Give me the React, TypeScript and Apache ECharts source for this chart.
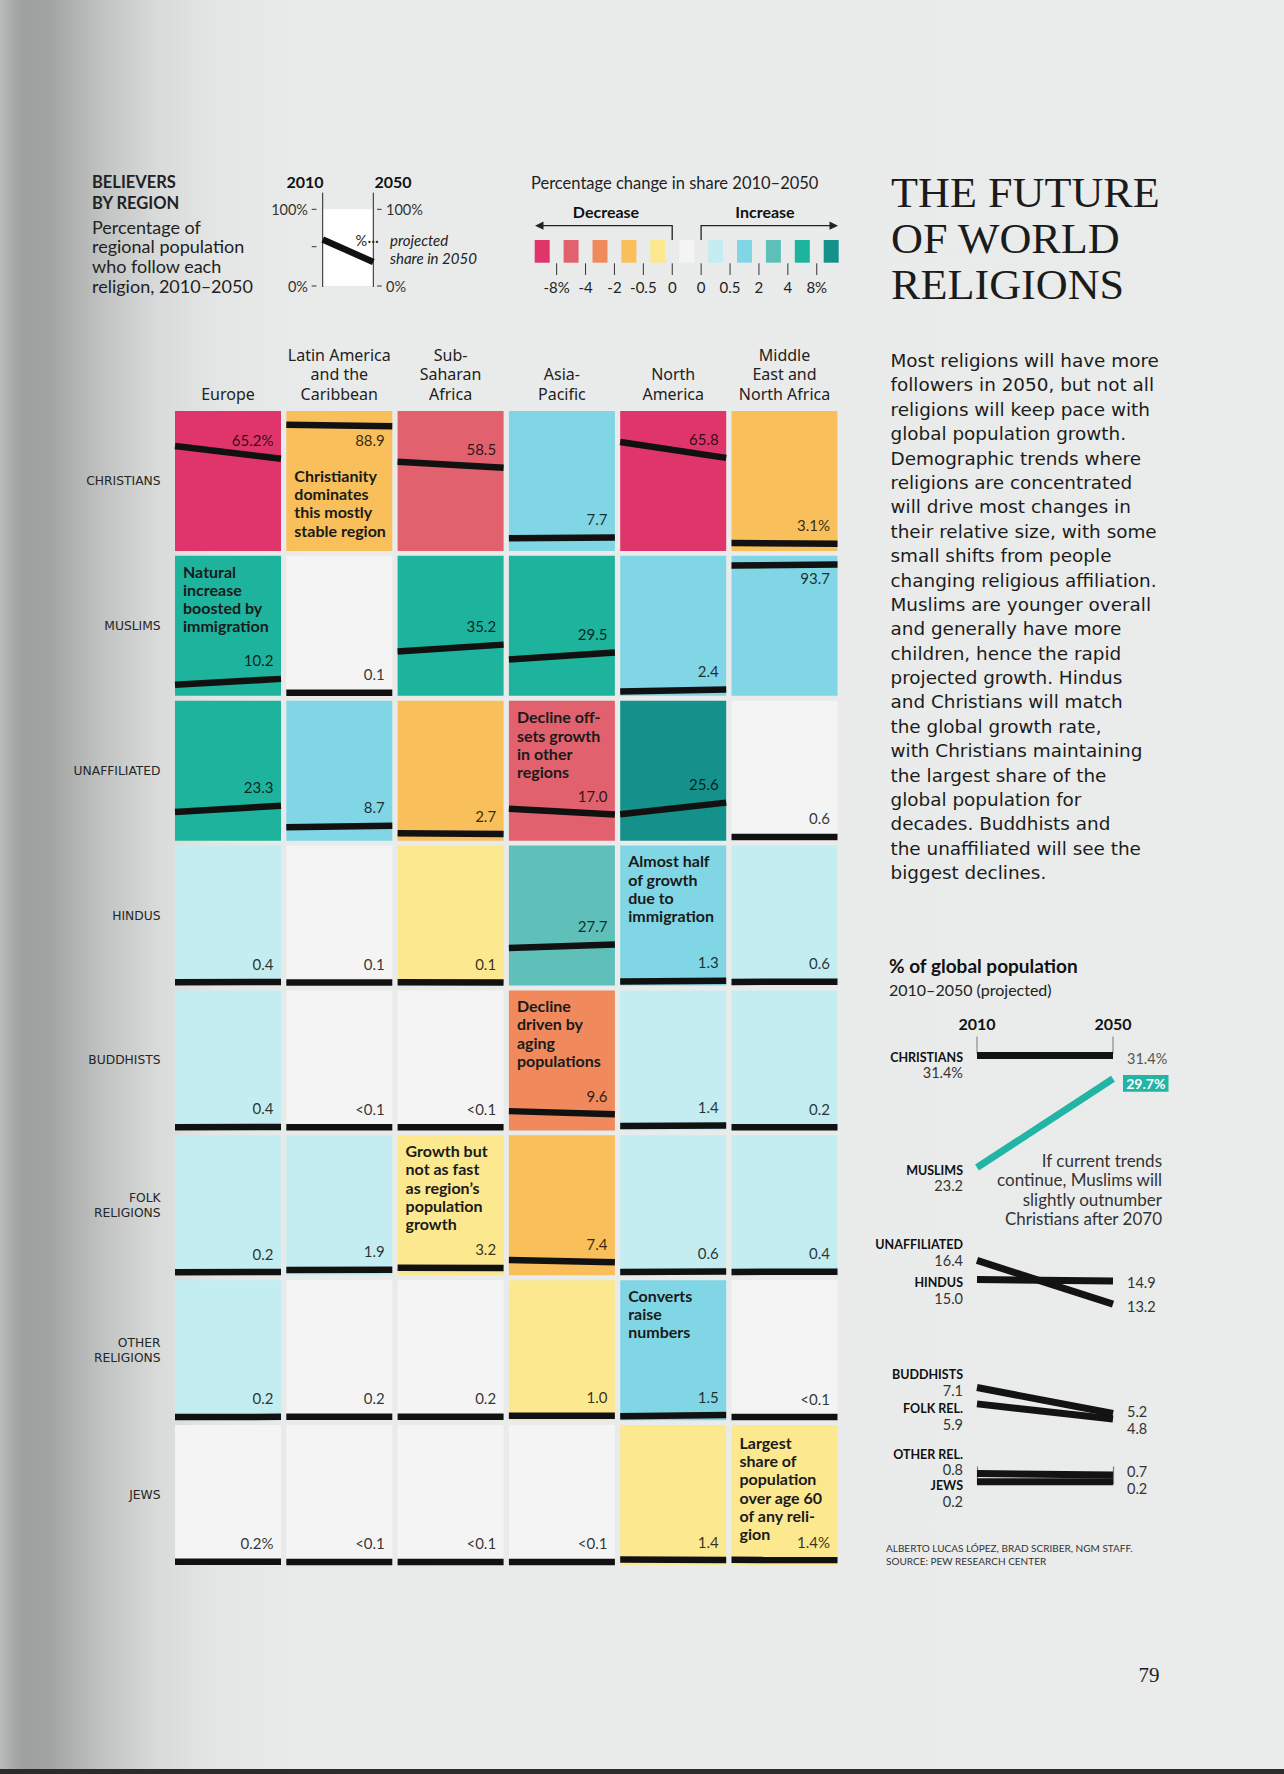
import React, { useEffect, useRef } from "react";
import * as echarts from "echarts";

// ---------------- DATA ----------------
const regions = [
  "Europe",
  "Latin America\nand the\nCaribbean",
  "Sub-\nSaharan\nAfrica",
  "Asia-\nPacific",
  "North\nAmerica",
  "Middle\nEast and\nNorth Africa",
];
const religionLabels = [
  "CHRISTIANS",
  "MUSLIMS",
  "UNAFFILIATED",
  "HINDUS",
  "BUDDHISTS",
  "FOLK\nRELIGIONS",
  "OTHER\nRELIGIONS",
  "JEWS",
];

// % of regional population (regions in the order above). 0.04 stands for "<0.1"
const christians2010 = [74.5, 90.0, 62.9, 7.1, 77.4, 3.7];
const christians2050 = [65.2, 88.9, 58.5, 7.7, 65.8, 3.1];
const muslims2010 = [5.9, 0.1, 30.2, 24.3, 1.0, 93.0];
const muslims2050 = [10.2, 0.1, 35.2, 29.5, 2.4, 93.7];
const unaffiliated2010 = [18.8, 7.7, 3.2, 21.2, 17.1, 0.6];
const unaffiliated2050 = [23.3, 8.7, 2.7, 17.0, 25.6, 0.6];
const hindus2010 = [0.2, 0.1, 0.2, 25.3, 0.7, 0.5];
const hindus2050 = [0.4, 0.1, 0.1, 27.7, 1.3, 0.6];
const buddhists2010 = [0.2, 0.04, 0.04, 11.9, 1.1, 0.1];
const buddhists2050 = [0.4, 0.04, 0.04, 9.6, 1.4, 0.2];
const folk2010 = [0.1, 1.7, 3.3, 9.0, 0.2, 0.3];
const folk2050 = [0.2, 1.9, 3.2, 7.4, 0.6, 0.4];
const other2010 = [0.1, 0.2, 0.2, 1.1, 0.6, 0.04];
const other2050 = [0.2, 0.2, 0.2, 1.0, 1.5, 0.04];
const jews2010 = [0.2, 0.04, 0.04, 0.04, 1.8, 1.6];
const jews2050 = [0.2, 0.04, 0.04, 0.04, 1.4, 1.4];

const legendTickLabels = ["-8%", "-4", "-2", "-0.5", "0", "0", "0.5", "2", "4", "8%"];

const globalYears = ["2010", "2050"];
const globalNames = ["CHRISTIANS", "MUSLIMS", "UNAFFILIATED", "HINDUS", "BUDDHISTS", "FOLK REL.", "OTHER REL.", "JEWS"];
const global2010 = [31.4, 23.2, 16.4, 15.0, 7.1, 5.9, 0.8, 0.2];
const global2050 = [31.4, 29.7, 13.2, 14.9, 5.2, 4.8, 0.7, 0.2];
const global2010Labels = ["31.4%", "23.2", "16.4", "15.0", "7.1", "5.9", "0.8", "0.2"];
const global2050Labels = ["31.4%", "29.7%", "13.2", "14.9", "5.2", "4.8", "0.7", "0.2"];

const noteRows = [0, 1, 2, 3, 4, 5, 6, 7];
const noteCols = [1, 0, 3, 4, 3, 2, 4, 5];
const noteTexts = [
  "Christianity\ndominates\nthis mostly\nstable region",
  "Natural\nincrease\nboosted by\nimmigration",
  "Decline off-\nsets growth\nin other\nregions",
  "Almost half\nof growth\ndue to\nimmigration",
  "Decline\ndriven by\naging\npopulations",
  "Growth but\nnot as fast\nas region\u2019s\npopulation\ngrowth",
  "Converts\nraise\nnumbers",
  "Largest\nshare of\npopulation\nover age 60\nof any reli-\ngion",
];

const titleLines = ["THE FUTURE", "OF WORLD", "RELIGIONS"];
const bodyLines = [
  "Most religions will have more",
  "followers in 2050, but not all",
  "religions will keep pace with",
  "global population growth.",
  "Demographic trends where",
  "religions are concentrated",
  "will drive most changes in",
  "their relative size, with some",
  "small shifts from people",
  "changing religious affiliation.",
  "Muslims are younger overall",
  "and generally have more",
  "children, hence the rapid",
  "projected growth. Hindus",
  "and Christians will match",
  "the global growth rate,",
  "with Christians maintaining",
  "the largest share of the",
  "global population for",
  "decades. Buddhists and",
  "the unaffiliated will see the",
  "biggest declines.",
];

// ---------------- LAYOUT / STYLE ----------------
const COL_X0 = 175;
const COL_STEP = 111.3;
const CELL_W = 106;
const ROW_Y0 = 411;
const ROW_STEP = 144.86;
const CELL_H = 140;

const palette = [
  "#e0356b", // <= -8
  "#e1626e", // -8..-4
  "#f08a5c", // -4..-2
  "#f9bf5b", // -2..-0.5
  "#fbe88f", // -0.5..0
  "#f3f4f3", // 0
  "#c3edf1", // 0..0.5
  "#80d6e5", // 0.5..2
  "#5ec0b9", // 2..4
  "#1db39d", // 4..8
  "#14918a", // >= 8
];

function colorFor(d: number) {
  const x = Math.round(d * 10) / 10;
  if (x === 0) return palette[5];
  if (x < 0) {
    if (x <= -8) return palette[0];
    if (x <= -4) return palette[1];
    if (x <= -2) return palette[2];
    if (x <= -0.5) return palette[3];
    return palette[4];
  }
  if (x < 0.5) return palette[6];
  if (x < 2) return palette[7];
  if (x < 4) return palette[8];
  if (x < 8) return palette[9];
  return palette[10];
}

const NOTE_DY = [55, 6, 7, 6, 6, 6, 6, 8];

// slope chart layout
const SL_LEFT = 977;
const SL_TOP = 1055.5;
const SL_W = 136;
const SL_H = 429;
const SL_MAX = 31.4;
const nameDy = [1.5, 2.5, -15.5, 3, -13, 5, -19.5, 3.5];
const rightDy = [2.5, 4.7, 2.4, 1.6, -1.7, 9.4, -3.2, 7.2];

const LATO = "Lato";
const DEJAVU = "DejaVu Sans";
const SERIF = "Liberation Serif";

function txt(x: number, y: number, text: string, o: any = {}) {
  const el: any = {
    type: "text",
    x,
    y,
    silent: true,
    z: o.z ?? 10,
    style: {
      text,
      fill: o.fill ?? "#1d1d1d",
      fontFamily: o.fontFamily ?? LATO,
      fontSize: o.fontSize ?? 15,
      fontWeight: o.fontWeight ?? "normal",
      fontStyle: o.fontStyle ?? "normal",
      align: o.align ?? "left",
      verticalAlign: o.verticalAlign ?? "middle",
      lineHeight: o.lineHeight,
    },
  };
  if (o.scaleX) el.scaleX = o.scaleX;
  return el;
}

function buildOption() {
  const shares2010 = [christians2010, muslims2010, unaffiliated2010, hindus2010, buddhists2010, folk2010, other2010, jews2010];
  const shares2050 = [christians2050, muslims2050, unaffiliated2050, hindus2050, buddhists2050, folk2050, other2050, jews2050];

  const grid: any[] = [];
  const xAxis: any[] = [];
  const yAxis: any[] = [];
  const series: any[] = [];
  const graphic: any[] = [];

  for (let r = 0; r < religionLabels.length; r++) {
    for (let c = 0; c < regions.length; c++) {
      const v0 = shares2010[r][c];
      const v1 = shares2050[r][c];
      const gi = grid.length;
      grid.push({
        left: COL_X0 + c * COL_STEP,
        top: ROW_Y0 + r * ROW_STEP,
        width: CELL_W,
        height: CELL_H,
        show: true,
        backgroundColor: colorFor(v1 - v0),
        borderWidth: 0,
      });
      const xi = xAxis.length;
      xAxis.push({ type: "value", gridIndex: gi, min: 0, max: 1, show: false });
      if (r === 0) {
        xAxis.push({
          type: "category",
          gridIndex: gi,
          position: "top",
          data: [regions[c]],
          axisLine: { show: false },
          axisTick: { show: false },
          splitLine: { show: false },
          axisLabel: {
            margin: 7.6,
            fontFamily: "Noto Sans",
            fontSize: 16,
            lineHeight: 19.3,
            color: "#222",
            align: "center",
          },
        });
      }
      const yi = yAxis.length;
      yAxis.push({ type: "value", gridIndex: gi, min: -2.2, max: 100, show: false });
      if (c === 0) {
        yAxis.push({
          type: "category",
          gridIndex: gi,
          position: "left",
          data: [religionLabels[r]],
          axisLine: { show: false },
          axisTick: { show: false },
          splitLine: { show: false },
          axisLabel: {
            margin: 14.4,
            fontFamily: DEJAVU,
            fontSize: 12.3,
            lineHeight: 15,
            color: "#262626",
            align: "right",
          },
        });
      }
      series.push({
        type: "line",
        xAxisIndex: xi,
        yAxisIndex: yi,
        data: [[0, v0], [1, v1]],
        symbol: "none",
        clip: false,
        silent: true,
        z: 3,
        lineStyle: { width: 6.5, color: "#111", cap: "butt" },
      });
      const corner = (r === 0 || r === religionLabels.length - 1) && (c === 0 || c === regions.length - 1);
      const lbl = v1 < 0.1 ? "<0.1" : v1.toFixed(1) + (corner ? "%" : "");
      const below = v1 > 85;
      series.push({
        type: "scatter",
        xAxisIndex: xi,
        yAxisIndex: yi,
        data: [[1, v1]],
        symbolSize: 1,
        silent: true,
        z: 4,
        itemStyle: { color: "rgba(0,0,0,0)" },
        label: {
          show: true,
          formatter: () => lbl,
          position: below ? [-7, 7] : [-7, -10.5],
          align: "right",
          verticalAlign: below ? "top" : "bottom",
          fontFamily: LATO,
          fontSize: 15,
          color: "#000",
        },
      });
    }
  }

  // notes in cells
  noteTexts.forEach((t, i) => {
    const x = COL_X0 + noteCols[i] * COL_STEP + 8;
    const y = ROW_Y0 + noteRows[i] * ROW_STEP + NOTE_DY[i];
    graphic.push(txt(x, y, t, { fontWeight: "bold", fontSize: 16, lineHeight: 18.3, verticalAlign: "top", fill: "#1a1a1a" }));
  });

  // ---- slope chart (global population) ----
  const sgi = grid.length;
  grid.push({ left: SL_LEFT, top: SL_TOP, width: SL_W, height: SL_H, show: false });
  const sxi = xAxis.length;
  xAxis.push({
    type: "value",
    gridIndex: sgi,
    min: 0,
    max: 1,
    interval: 1,
    position: "top",
    axisLine: { show: false },
    axisTick: { show: true, length: 18, lineStyle: { color: "#7a7a7a", width: 1.2 } },
    splitLine: { show: false },
    axisLabel: {
      margin: 24,
      fontFamily: LATO,
      fontWeight: "bold",
      fontSize: 16,
      color: "#111",
      formatter: (v: number) => globalYears[Math.round(v)] ?? "",
    },
  });
  const syi = yAxis.length;
  yAxis.push({ type: "value", gridIndex: sgi, min: 0, max: SL_MAX, show: false });
  globalNames.forEach((n, i) => {
    series.push({
      type: "line",
      xAxisIndex: sxi,
      yAxisIndex: syi,
      data: [[0, global2010[i]], [1, global2050[i]]],
      symbol: "none",
      clip: false,
      silent: true,
      z: i === 1 ? 5 : 4,
      lineStyle: { width: 7, color: i === 1 ? "#22b4a5" : "#131313", cap: "butt" },
    });
  });
  // year ticks above the slope lines
  [SL_LEFT, SL_LEFT + SL_W].forEach((x) => {
    graphic.push({ type: "line", silent: true, z: 2, shape: { x1: x, y1: SL_TOP - 19, x2: x, y2: SL_TOP - 2 }, style: { stroke: "#8a8a8a", lineWidth: 1.2 } });
  });
  const yOf = (v: number) => SL_TOP + ((SL_MAX - v) / SL_MAX) * SL_H;
  globalNames.forEach((n, i) => {
    const yn = yOf(global2010[i]) + nameDy[i];
    graphic.push(txt(963, yn, n, { fontWeight: "bold", fontSize: 12.5, align: "right", fill: "#111" }));
    graphic.push(txt(963, yn + 15.8, global2010Labels[i], { fontSize: 14.5, align: "right", fill: "#333" }));
    const yr = yOf(global2050[i]) + rightDy[i];
    if (i === 1) {
      graphic.push({ type: "rect", silent: true, z: 9, shape: { x: 1123, y: yr - 8.4, width: 45.5, height: 16.8 }, style: { fill: "#22b4a5" } });
      graphic.push(txt(1145.8, yr, global2050Labels[i], { fontWeight: "bold", fontSize: 14, align: "center", fill: "#ffffff" }));
    } else {
      graphic.push(txt(1127, yr, global2050Labels[i], { fontSize: 14.5, fill: i === 0 ? "#555" : "#333" }));
    }
  });
  graphic.push(
    txt(1162, 1150.5, "If current trends\ncontinue, Muslims will\nslightly outnumber\nChristians after 2070", {
      fontSize: 17,
      lineHeight: 19.5,
      align: "right",
      verticalAlign: "top",
      fill: "#333",
    })
  );
  graphic.push(txt(889, 965, "% of global population", { fontWeight: "bold", fontSize: 19, fill: "#111" }));
  graphic.push(txt(889, 989, "2010\u20132050 (projected)", { fontSize: 16, fill: "#222" }));
  graphic.push(txt(886, 1548.3, "ALBERTO LUCAS L\u00d3PEZ, BRAD SCRIBER, NGM STAFF.", { fontSize: 10, fill: "#333" }));
  graphic.push(txt(886, 1561, "SOURCE: PEW RESEARCH CENTER", { fontSize: 10, fill: "#333" }));

  // ---- title + body ----
  titleLines.forEach((t, i) => {
    graphic.push(txt(891, 192.5 + i * 46, t, { fontFamily: SERIF, fontSize: 41.5, scaleX: 1.065, fill: "#1b1b1b" }));
  });
  graphic.push(
    txt(890.5, 348.4, bodyLines.join("\n"), {
      fontFamily: DEJAVU,
      fontSize: 18.4,
      lineHeight: 24.38,
      verticalAlign: "top",
      fill: "#1c1c1c",
    })
  );
  graphic.push(txt(1149, 1675, "79", { fontFamily: SERIF, fontSize: 21, align: "center", fill: "#222" }));

  // ---- top-left legend ----
  graphic.push(txt(92, 172, "BELIEVERS\nBY REGION", { fontWeight: "bold", fontSize: 16.5, lineHeight: 20.5, verticalAlign: "top", fill: "#222" }));
  graphic.push(
    txt(92, 216.8, "Percentage of\nregional population\nwho follow each\nreligion, 2010\u20132050", {
      fontSize: 18,
      lineHeight: 19.7,
      verticalAlign: "top",
      fill: "#222",
    })
  );
  graphic.push(txt(305, 181.7, "2010", { fontWeight: "bold", fontSize: 16, align: "center", fill: "#111" }));
  graphic.push(txt(393, 181.7, "2050", { fontWeight: "bold", fontSize: 16, align: "center", fill: "#111" }));
  graphic.push({ type: "rect", silent: true, shape: { x: 322.7, y: 209.3, width: 50.6, height: 76.7 }, style: { fill: "#ffffff" } });
  graphic.push({ type: "line", silent: true, shape: { x1: 322.7, y1: 192.7, x2: 322.7, y2: 287 }, style: { stroke: "#222", lineWidth: 1 } });
  graphic.push({ type: "line", silent: true, shape: { x1: 373.3, y1: 192.7, x2: 373.3, y2: 287 }, style: { stroke: "#222", lineWidth: 1 } });
  graphic.push({ type: "line", silent: true, z: 11, shape: { x1: 322.7, y1: 239.5, x2: 373.3, y2: 262 }, style: { stroke: "#111", lineWidth: 6.5 } });
  [209.3, 246.7, 286].forEach((y) => {
    graphic.push({ type: "line", silent: true, shape: { x1: 311.7, y1: y, x2: 316.5, y2: y }, style: { stroke: "#333", lineWidth: 1 } });
  });
  [209.3, 286].forEach((y) => {
    graphic.push({ type: "line", silent: true, shape: { x1: 377, y1: y, x2: 381.7, y2: y }, style: { stroke: "#333", lineWidth: 1 } });
  });
  graphic.push(txt(308, 209.3, "100%", { fontSize: 14.5, align: "right", fill: "#333" }));
  graphic.push(txt(308, 286, "0%", { fontSize: 14.5, align: "right", fill: "#333" }));
  graphic.push(txt(386, 209.3, "100%", { fontSize: 14.5, fill: "#333" }));
  graphic.push(txt(386, 286, "0%", { fontSize: 14.5, fill: "#333" }));
  graphic.push(txt(355.5, 240, "%", { fontSize: 14.5, fill: "#222" }));
  graphic.push(txt(367.5, 240, "\u00b7\u00b7\u00b7", { fontSize: 14.5, fill: "#222" }));
  graphic.push(txt(390, 240, "projected", { fontSize: 15, fontStyle: "italic", fill: "#222" }));
  graphic.push(txt(390, 257.5, "share in 2050", { fontSize: 15, fontStyle: "italic", fill: "#222" }));

  // ---- colour legend ----
  graphic.push(txt(531, 182.5, "Percentage change in share 2010\u20132050", { fontSize: 16.5, fill: "#222" }));
  graphic.push(txt(606, 211.7, "Decrease", { fontWeight: "bold", fontSize: 16, align: "center", fill: "#111" }));
  graphic.push(txt(765, 211.7, "Increase", { fontWeight: "bold", fontSize: 16, align: "center", fill: "#111" }));
  graphic.push({ type: "polyline", silent: true, shape: { points: [[672.2, 240], [672.2, 225.7], [541, 225.7]] }, style: { stroke: "#222", lineWidth: 1.3, fill: "none" } });
  graphic.push({ type: "polygon", silent: true, shape: { points: [[535, 225.7], [543.5, 221.6], [543.5, 229.8]] }, style: { fill: "#222" } });
  graphic.push({ type: "polyline", silent: true, shape: { points: [[701.1, 240], [701.1, 225.7], [831, 225.7]] }, style: { stroke: "#222", lineWidth: 1.3, fill: "none" } });
  graphic.push({ type: "polygon", silent: true, shape: { points: [[838, 225.7], [829.5, 221.6], [829.5, 229.8]] }, style: { fill: "#222" } });
  palette.forEach((col, i) => {
    graphic.push({ type: "rect", silent: true, shape: { x: 534.7 + i * 28.9, y: 240, width: 15, height: 22.7 }, style: { fill: col } });
  });
  legendTickLabels.forEach((t, i) => {
    const x = 534.7 + i * 28.9 + 21.95;
    graphic.push({ type: "line", silent: true, shape: { x1: x, y1: 263.3, x2: x, y2: 275 }, style: { stroke: "#333", lineWidth: 1 } });
    graphic.push(txt(x, 287, t, { fontSize: 15, align: "center", fill: "#222" }));
  });

  // bottom edge of the scanned page
  graphic.push({ type: "rect", silent: true, shape: { x: 0, y: 1769, width: 1284, height: 5 }, style: { fill: "#2b2b2b" } });

  return {
    animation: false,
    backgroundColor: "transparent",
    textStyle: { fontFamily: LATO },
    grid,
    xAxis,
    yAxis,
    series,
    graphic,
  };
}

export default function App() {
  const ref = useRef<HTMLDivElement>(null);
  useEffect(() => {
    if (!ref.current) return;
    const chart = echarts.init(ref.current, undefined, { renderer: "svg", width: 1284, height: 1774 });
    chart.setOption(buildOption() as any);
    return () => chart.dispose();
  }, []);
  return (
    <div
      ref={ref}
      style={{
        position: "absolute",
        left: 0,
        top: 0,
        width: 1284,
        height: 1774,
        background:
          "linear-gradient(to right, #b9baba 0px, #9e9f9f 22px, #a2a3a3 50px, #c0c2c1 100px, #d8dad9 155px, #e4e6e5 215px, #e9ebea 300px, #eaeceb 100%)",
      }}
    />
  );
}
